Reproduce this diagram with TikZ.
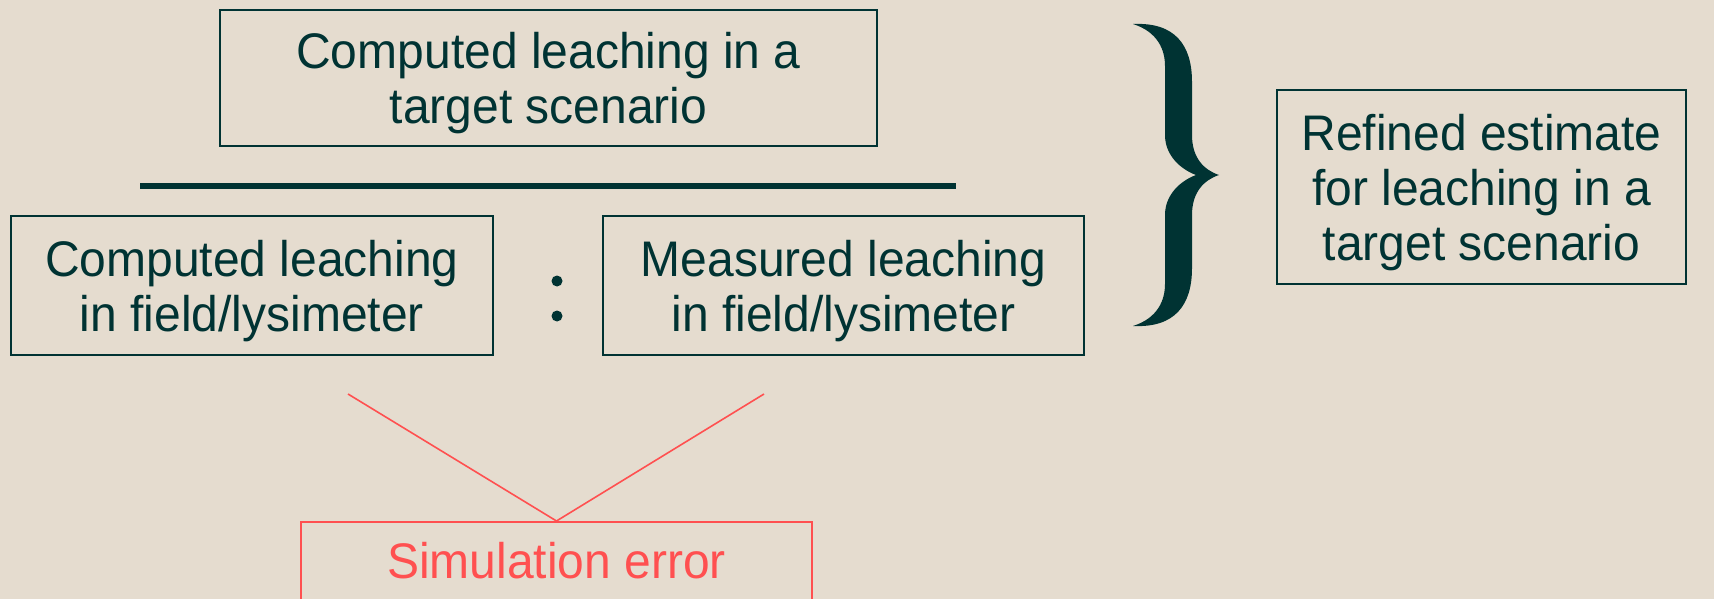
\documentclass[tikz,border=0pt]{standalone}
\usepackage{fontspec}
\setmainfont{Liberation Sans}[FakeStretch=0.96]
\definecolor{ink}{RGB}{0,51,51}
\definecolor{err}{RGB}{255,80,80}
\definecolor{paper}{RGB}{229,220,207}
\begin{document}
\begin{tikzpicture}[x=1pt,y=-1pt,
  box/.style={draw=ink, line width=1.6pt, text=ink, align=center,
    font=\fontsize{50}{55}\selectfont, inner sep=0pt, text depth=0pt},
  errbox/.style={draw=err, line width=1.6pt, text=err,
    font=\fontsize{50}{55}\selectfont, inner xsep=0pt, inner ysep=21pt,
    text height=36pt, text depth=70pt},
  errline/.style={draw=err, line width=1.6pt},
  bar/.style={draw=ink, line width=5pt},
  dotmark/.style={circle, fill=ink, inner sep=0pt, minimum size=11pt}
]
\fill[paper] (0,0) rectangle (1714,599);
\useasboundingbox (0,0) rectangle (1714,599);

% boxes
\node[box, minimum width=657pt, minimum height=136pt] (top) at (548.5,78)
  {Computed leaching in a\\target scenario};
\node[box, minimum width=482pt, minimum height=139pt] (comp) at (252,285.5)
  {Computed leaching\\in field/lysimeter};
\node[box, minimum width=481pt, minimum height=139pt] (meas) at (843.5,285.5)
  {Measured leaching\\in field/lysimeter};
\node[box, minimum width=409pt, minimum height=194pt] (refined) at (1481.5,187)
  {Refined estimate\\for leaching in a\\target scenario};
\node[errbox, minimum width=511pt, anchor=north] (sim) at (556.5,521)
  {Simulation error};

% fraction bar
\coordinate (barL) at (140,186);
\coordinate (barR) at (956,186);
\draw[bar] (barL) -- (barR);

% ratio dots
\node[dotmark] (d1) at (557,281) {};
\node[dotmark] (d2) at (557,316) {};

% red connectors
\coordinate (e1) at (348,394);
\coordinate (e2) at (764,394);
\draw[errline] (e1) -- (sim.north);
\draw[errline] (e2) -- (sim.north);

% brace
\fill[ink] (1133,24)
  .. controls (1175,22) and (1192,45) .. (1192,82)
  -- (1192,135)
  .. controls (1192,158) and (1204,170) .. (1219,175)
  .. controls (1204,180) and (1192,192) .. (1192,215)
  -- (1192,268)
  .. controls (1192,305) and (1175,328) .. (1133,326)
  .. controls (1158,318) and (1165,300) .. (1165,284)
  -- (1165,215)
  .. controls (1165,195) and (1180,181) .. (1196,175)
  .. controls (1180,169) and (1165,155) .. (1165,135)
  -- (1165,66)
  .. controls (1165,50) and (1158,32) .. (1133,24) -- cycle;
\end{tikzpicture}
\end{document}
